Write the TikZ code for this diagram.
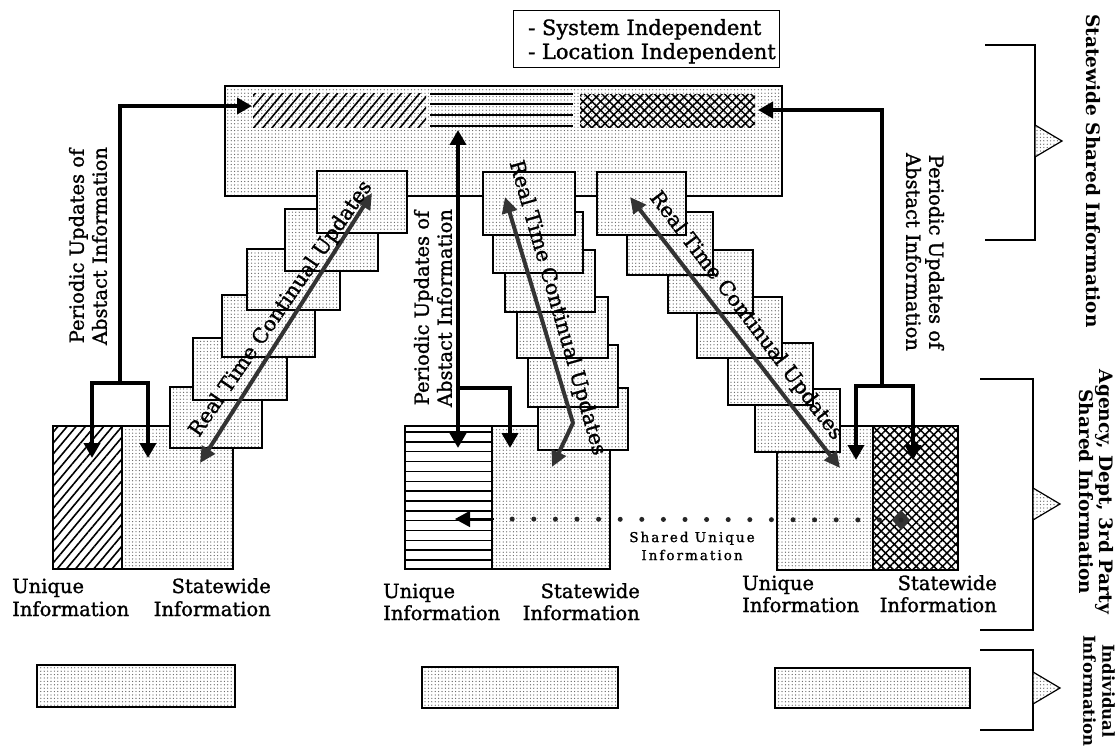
\documentclass[tikz,border=0pt]{standalone}
\usepackage{fontspec}
\setmainfont{DejaVu Serif}
\newfontfamily\dgserif{DejaVu Serif}[FakeBold=1.3]
\usetikzlibrary{arrows.meta,patterns.meta,shapes.geometric}

\begin{document}
\begin{tikzpicture}[x=1pt,y=-1pt,
  outline/.style={draw=black, line width=1.6pt, line join=miter},
  dotfill/.style={preaction={fill=white}, pattern={Dots[distance=3.4pt,radius=0.65pt]}, pattern color=black!62},
  blockbox/.style={outline, dotfill, inner sep=0pt, outer sep=0pt, anchor=north west},
  plainbox/.style={outline, fill=white, inner sep=0pt, outer sep=0pt, anchor=north west},
  diaghatch/.style={pattern={Lines[angle=50,distance=7pt,line width=1.6pt]}},
  crosshatch/.style={pattern={Hatch[angle=45,distance=6.2pt,line width=1.5pt]}},
  periodic/.style={draw=black, line width=3.8pt, line join=miter},
  ptip/.style={-{Triangle[length=15pt,width=16pt]}},
  pboth/.style={{Triangle[length=15pt,width=16pt]}-{Triangle[length=15pt,width=16pt]}},
  realtime/.style={draw=black!80, line width=4pt, line join=round,
    {Triangle[length=16pt,width=15pt]}-{Triangle[length=16pt,width=15pt]}},
  labeltext/.style={font=\dgserif\fontsize{19.5}{23}\selectfont, inner sep=0pt},
  notetext/.style={font=\dgserif\fontsize{21}{24}\selectfont, inner sep=0pt},
  periodtext/.style={font=\dgserif\fontsize{19.5}{23}\selectfont, inner sep=0pt, align=center},
  rttext/.style={font=\dgserif\fontsize{20.5}{24}\selectfont, inner sep=0pt},
  sidetext/.style={font=\bfseries\fontsize{18.5}{20}\selectfont, inner sep=0pt, align=center, rotate=-90},
  bracket/.style={draw=black, line width=1.5pt},
  pointer/.style={draw=black, line width=1.2pt, dotfill}
]
\useasboundingbox (0,0) rectangle (1116,746);

% ---- statewide shared store with its three abstract areas
\node[blockbox, minimum width=557pt, minimum height=110pt] (top) at (225,86) {};
\path[diaghatch] (253,94) rectangle (426,128);
\foreach \yy in {94,104,115,126} \draw[line width=1.5pt] (430,\yy) -- (573,\yy);
\path[crosshatch] (580,95) rectangle (755,128);

% ---- independence note
\node[outline, line width=1.4pt, anchor=north west, minimum width=266pt, minimum height=57pt, inner sep=0pt] (indep) at (513,10) {};
\node[notetext, anchor=base west] (indepA) at (528,35) {- System Independent};
\node[notetext, anchor=base west] (indepB) at (528,59) {- Location Independent};

% ---- agency stores: unique part + statewide part
\node[plainbox, diaghatch, minimum width=69pt, minimum height=143pt] (LU) at (53,426) {};
\node[blockbox, minimum width=111pt, minimum height=143pt] (LS) at (122,426) {};
\node[plainbox, minimum width=87pt, minimum height=143pt] (MU) at (405,426) {};
\foreach \k in {0,...,13} \draw[line width=1.5pt] (405,432+\k*9.85) -- (492,432+\k*9.85);
\node[blockbox, minimum width=118pt, minimum height=143pt] (MS) at (492,426) {};
\node[blockbox, minimum width=96pt, minimum height=144pt] (RU) at (777,426) {};
\node[plainbox, crosshatch, minimum width=85pt, minimum height=144pt] (RS) at (873,426) {};

% ---- individual stores
\node[blockbox, minimum width=198pt, minimum height=42pt] (BL) at (37,665) {};
\node[blockbox, minimum width=196pt, minimum height=41pt] (BM) at (422,667) {};
\node[blockbox, minimum width=195pt, minimum height=40pt] (BR) at (775,668) {};

% ---- staircases of intermediate stores (upper ones drawn last)
\foreach \nm/\xx/\yy/\ww/\hh in {
  L6/170/387/92/61, L5/193/338/94/62, L4/222/295/93/62, L3/247/249/93/61, L2/285/209/93/62, L1/317/171/90/62,
  M6/538/388/90/62, M5/528/345/90/62, M4/517/297/91/61, M3/505/250/90/62, M2/493/212/90/61, M1/483/172/92/63,
  R6/755/389/85/63, R5/728/343/85/62, R4/697/297/85/61, R3/668/250/85/63, R2/627/212/86/63, R1/597/172/89/63}
  \node[blockbox, minimum width=\ww pt, minimum height=\hh pt] (\nm) at (\xx,\yy) {};

% ---- periodic update routes
\coordinate (lp0) at (120,383); \coordinate (lp1) at (120,106); \coordinate (lpT) at (252,106);
\coordinate (lbA) at (92,458); \coordinate (lb0) at (92,383); \coordinate (lb1) at (148,383); \coordinate (lbB) at (148,458);
\draw[periodic, ptip] (lp0) -- (lp1) -- (lpT);
\draw[periodic, pboth] (lbA) -- (lb0) -- (lb1) -- (lbB);

\coordinate (mpT) at (458,130); \coordinate (mpB) at (458,448);
\coordinate (mb0) at (458,388); \coordinate (mb1) at (510,388); \coordinate (mbB) at (510,448);
\draw[periodic, pboth] (mpB) -- (mpT);
\draw[periodic, ptip] (mb0) -- (mb1) -- (mbB);

\coordinate (rp0) at (882,386); \coordinate (rp1) at (882,110); \coordinate (rpT) at (758,110);
\coordinate (rbA) at (856,460); \coordinate (rb0) at (856,386); \coordinate (rb1) at (913,386); \coordinate (rbB) at (913,460);
\draw[periodic, ptip] (rp0) -- (rp1) -- (rpT);
\draw[periodic, pboth] (rbA) -- (rb0) -- (rb1) -- (rbB);

% ---- real time continual update routes
\coordinate (la) at (200,463); \coordinate (lb) at (372,193);
\coordinate (ma) at (505,197); \coordinate (mk) at (573,423); \coordinate (mb) at (552,467);
\coordinate (ra) at (630,197); \coordinate (rb) at (840,468);
\draw[realtime] (la) -- (lb);
\draw[realtime] (ma) -- (mk) -- (mb);
\draw[realtime] (ra) -- (rb);
\node[rttext, rotate=55.4] (ltxt) at (281,309) {Real Time Continual Updates};
\node[rttext, rotate=-74] (mtxt) at (557,308) {Real Time Continual Updates};
\node[rttext, rotate=-52.8] (rtxt) at (746,316) {Real Time Continual Updates};

% ---- shared unique information link
\node[diamond, fill=black!80, minimum width=18pt, minimum height=20pt, inner sep=0pt] (sdia) at (901,520) {};
\coordinate (sdot) at (494,519); \coordinate (stip) at (455,519);
\draw[line width=5pt, line cap=round, dash pattern=on 0pt off 21.6pt, black!85] (sdia.center) -- (sdot);
\draw[line width=1.5pt, -{Triangle[length=15pt,width=16pt]}] (sdot) -- (stip);
\node[font=\dgserif\fontsize{13.5}{18}\selectfont\addfontfeature{LetterSpace=15}, align=center, inner sep=0pt] (shtxt) at (692,546) {Shared Unique\\Information};

% ---- periodic update captions
\node[periodtext, rotate=90] (lptxt) at (88,246) {Periodic Updates of\\Abstact Information};
\node[periodtext, rotate=90] (mptxt) at (433,308) {Periodic Updates of\\Abstact Information};
\node[periodtext, rotate=-90] (rptxt) at (925,252) {Periodic Updates of\\Abstact Information};

% ---- store captions
\node[labeltext, anchor=base west] (lcu1) at (12,593) {Unique};
\node[labeltext, anchor=base west] (lcu2) at (12,616) {Information};
\node[labeltext, anchor=base east] (lcs1) at (271,593) {Statewide};
\node[labeltext, anchor=base east] (lcs2) at (271,616) {Information};
\node[labeltext, anchor=base west] (mcu1) at (383,598) {Unique};
\node[labeltext, anchor=base west] (mcu2) at (383,620) {Information};
\node[labeltext, anchor=base east] (mcs1) at (640,598) {Statewide};
\node[labeltext, anchor=base east] (mcs2) at (640,620) {Information};
\node[labeltext, anchor=base west] (rcu1) at (742,590) {Unique};
\node[labeltext, anchor=base west] (rcu2) at (742,612) {Information};
\node[labeltext, anchor=base east] (rcs1) at (997,590) {Statewide};
\node[labeltext, anchor=base east] (rcs2) at (997,612) {Information};

% ---- level brackets
\draw[bracket] (985,45) -- (1035,45) -- (1035,240) -- (985,240);
\draw[pointer] (1035,125) -- (1062,141) -- (1035,157) -- cycle;
\draw[bracket] (980,379) -- (1033,379) -- (1033,630) -- (980,630);
\draw[pointer] (1033,488) -- (1060,504) -- (1033,520) -- cycle;
\draw[bracket] (980,650) -- (1033,650) -- (1033,730) -- (980,730);
\draw[pointer] (1033,672) -- (1060,688) -- (1033,704) -- cycle;

\node[sidetext] (swtxt) at (1093,171) {Statewide Shared Information};
\node[sidetext] (agtxt) at (1096,492) {Agency, Dept, 3rd Party\\Shared Information};
\node[sidetext, font=\bfseries\fontsize{16.5}{19}\selectfont] (intxt) at (1099,691) {Individual\\Information};
\end{tikzpicture}
\end{document}
